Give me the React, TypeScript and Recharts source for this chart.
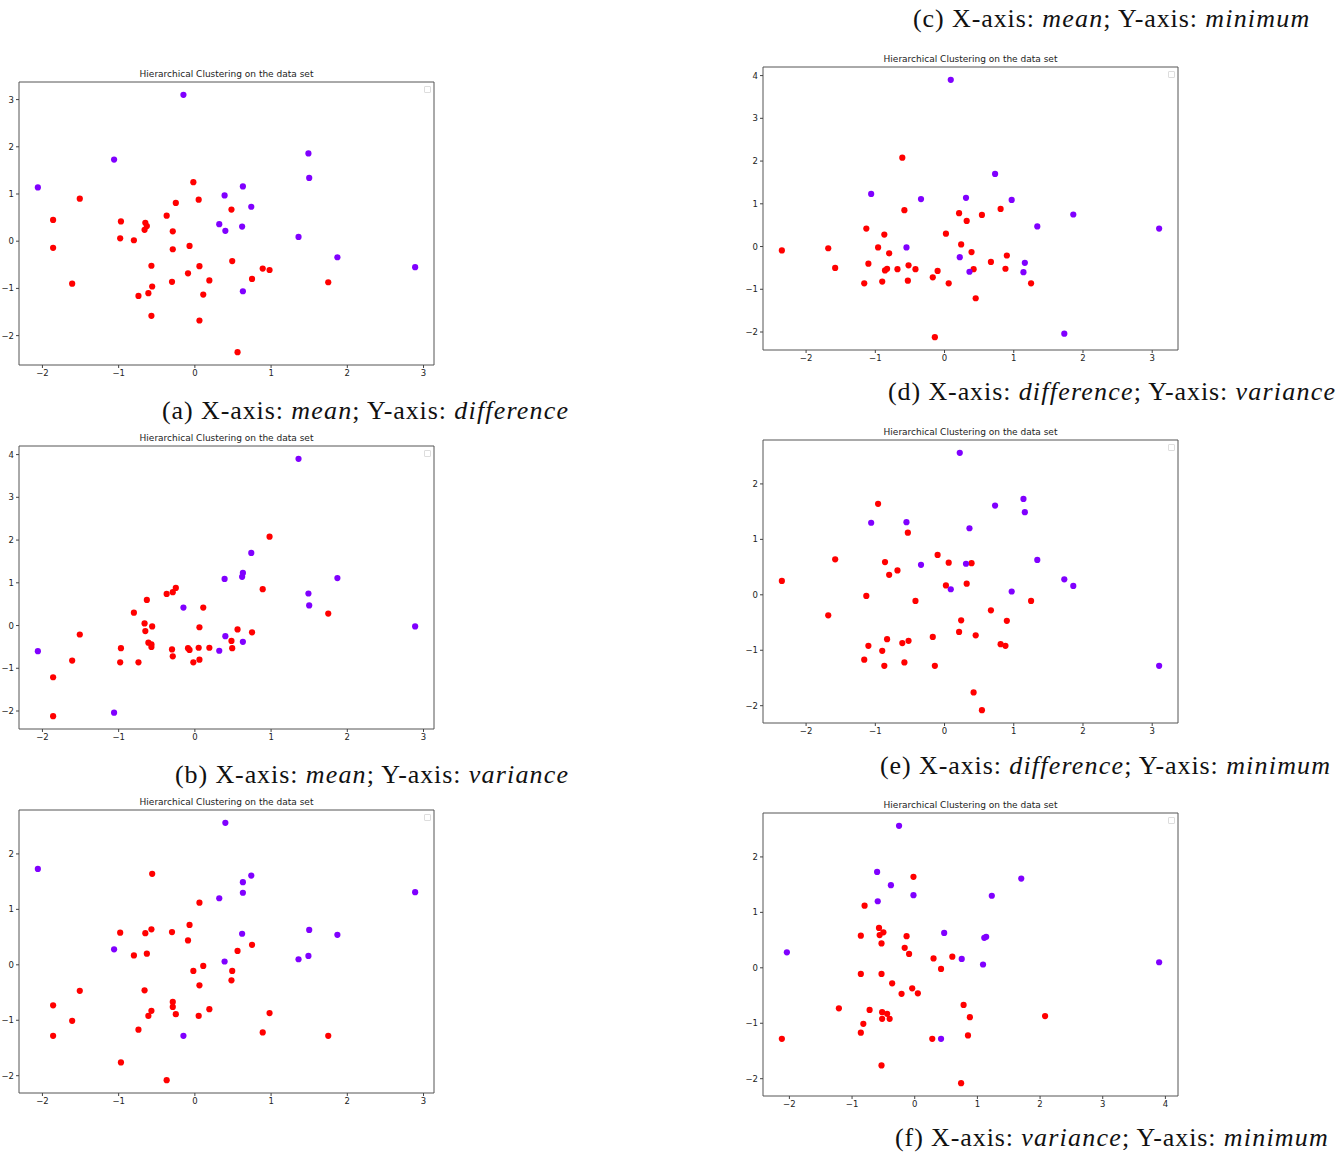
import React from "react";
import { ReferenceArea, Scatter, ScatterChart, XAxis, YAxis } from "recharts";

// cluster 0 (purple)
const meanP = [-0.15, -1.06, -2.06, 1.49, 1.5, 0.63, 0.39, 0.74, 0.32, 0.4, 0.62, 1.36, 1.87, 2.89, 0.63];
const diffP = [3.1, 1.73, 1.14, 1.86, 1.34, 1.16, 0.97, 0.73, 0.36, 0.22, 0.31, 0.09, -0.34, -0.55, -1.06];
const varP = [0.42, -2.04, -0.6, 0.75, 0.47, -0.38, 1.09, 1.7, -0.59, -0.25, 1.14, 3.9, 1.11, -0.02, 1.23];
const minP = [-1.28, 0.28, 1.73, 0.16, 0.63, 1.49, 0.06, 1.61, 1.2, 2.56, 0.56, 0.1, 0.54, 1.31, 1.3];

// cluster 1 (red)
const meanR = [
  -0.02, -1.51, 0.05, -0.25, 0.48, -1.86, -0.37, -0.97, -0.65, -0.63, -0.66, -0.29, -0.98, -0.8, -1.86, -0.29, -0.07, -0.57,
  0.06, 0.49, 0.89, 0.98, -0.09, 0.19, 0.75, -0.3, -1.61, 1.75, -0.56, -0.61, -0.74, 0.11, -0.57, 0.06, 0.56,
];
const diffR = [
  1.25, 0.9, 0.88, 0.81, 0.67, 0.45, 0.54, 0.42, 0.39, 0.32, 0.24, 0.21, 0.06, 0.02, -0.14, -0.17, -0.1, -0.52,
  -0.53, -0.42, -0.58, -0.61, -0.68, -0.83, -0.8, -0.86, -0.9, -0.87, -0.96, -1.1, -1.16, -1.13, -1.58, -1.68, -2.35,
];
const varR = [
  -0.86, -0.21, -0.52, 0.88, -0.36, -1.21, 0.74, -0.53, -0.13, 0.6, 0.05, 0.78, -0.86, 0.3, -2.12, -0.72, -0.57, -0.44,
  -0.8, -0.53, 0.85, 2.08, -0.53, -0.52, -0.16, -0.56, -0.82, 0.28, -0.02, -0.4, -0.86, 0.42, -0.5, -0.04, -0.09,
];
const minR = [
  -0.11, -0.47, -0.92, -0.89, -0.28, -0.73, -2.08, -1.76, 0.57, 0.2, -0.46, -0.67, 0.58, 0.17, -1.28, -0.76, 0.72, -0.83,
  1.12, -0.11, -1.22, -0.87, 0.44, -0.8, 0.36, 0.59, -1.01, -1.28, 1.64, -0.92, -1.17, -0.02, 0.64, -0.37, 0.25,
];

const diffTicks = [-2, -1, 0, 1, 2, 3];
const meanTicks = [-2, -1, 0, 1, 2, 3];
const varTicks = [-2, -1, 0, 1, 2, 3, 4];
const minTicks = [-2, -1, 0, 1, 2];

const PURPLE = "#8000ff";
const RED = "#ff0000";
const BOX_W = 415;
const BOX_H = 283;
const PAD_L = 40;
const PAD_T = 20;
const PAD_R = 12;
const PAD_B = 24;

const zip = (xs: number[], ys: number[]) => xs.map((x, i) => ({ x, y: ys[i] }));

// matplotlib-style autoscale: data limits plus 5% margin
const limits = (a: number[], b: number[]): [number, number] => {
  const all = a.concat(b);
  const lo = Math.min(...all);
  const hi = Math.max(...all);
  const m = (hi - lo) * 0.05;
  return [lo - m, hi + m];
};

const fmt = (v: number) => String(v).replace("-", "\u2212");

const Dot = (color: string) => (props: any) => (
  <circle cx={props.cx} cy={props.cy} r={3.1} fill={color} />
);

type PanelProps = {
  left: number;
  top: number;
  xP: number[];
  yP: number[];
  xR: number[];
  yR: number[];
  xTicks: number[];
  yTicks: number[];
};

function Panel({ left, top, xP, yP, xR, yR, xTicks, yTicks }: PanelProps) {
  const xd = limits(xP, xR);
  const yd = limits(yP, yR);
  const tick = { fontSize: 8.5, fill: "#222", fontFamily: "DejaVu Sans" };
  return (
    <div style={{ position: "absolute", left: left - PAD_L, top: top - PAD_T }}>
      <div
        style={{
          position: "absolute",
          left: PAD_L,
          width: BOX_W,
          top: PAD_T - 14,
          textAlign: "center",
          fontFamily: "DejaVu Sans",
          fontSize: 9,
          color: "#222",
          lineHeight: "12px",
        }}
      >
        Hierarchical Clustering on the data set
      </div>
      <ScatterChart
        width={BOX_W + PAD_L + PAD_R}
        height={BOX_H + PAD_T + PAD_B}
        margin={{ top: PAD_T, right: PAD_R, bottom: 0, left: 0 }}
      >
        <XAxis
          type="number"
          dataKey="x"
          domain={xd}
          ticks={xTicks}
          allowDataOverflow
          height={PAD_B}
          axisLine={false}
          tickLine={{ stroke: "#444" }}
          tickSize={3}
          tickMargin={2}
          tick={tick}
          tickFormatter={fmt}
        />
        <YAxis
          type="number"
          dataKey="y"
          domain={yd}
          ticks={yTicks}
          allowDataOverflow
          width={PAD_L}
          axisLine={false}
          tickLine={{ stroke: "#444" }}
          tickSize={3}
          tickMargin={2}
          tick={tick}
          tickFormatter={fmt}
        />
        <ReferenceArea x1={xd[0]} x2={xd[1]} y1={yd[0]} y2={yd[1]} fill="none" stroke="#555" strokeWidth={1} />
        <Scatter data={zip(xR, yR)} shape={Dot(RED)} isAnimationActive={false} />
        <Scatter data={zip(xP, yP)} shape={Dot(PURPLE)} isAnimationActive={false} />
      </ScatterChart>
      {/* empty legend frame */}
      <div
        style={{
          position: "absolute",
          left: PAD_L + BOX_W - 10,
          top: PAD_T + 4,
          width: 5,
          height: 5,
          border: "1px solid #ddd",
          borderRadius: 1,
        }}
      />
    </div>
  );
}

type CaptionProps = { left: number; top: number; tag: string; xName: string; yName: string };

function Caption({ left, top, tag, xName, yName }: CaptionProps) {
  const math = { letterSpacing: "1.2px" };
  return (
    <div
      style={{
        position: "absolute",
        left,
        top,
        fontFamily: "Liberation Serif",
        fontSize: 26,
        letterSpacing: "0.9px",
        lineHeight: "28px",
        whiteSpace: "nowrap",
        color: "#111",
      }}
    >
      ({tag}) X-axis: <i style={math}>{xName}</i>; Y-axis: <i style={math}>{yName}</i>
    </div>
  );
}

export default function App() {
  return (
    <div style={{ position: "absolute", left: 0, top: 0, width: 1336, height: 1158, background: "#fff" }}>
      <Caption left={913} top={5} tag="c" xName="mean" yName="minimum" />
      <Panel left={19} top={82} xP={meanP} yP={diffP} xR={meanR} yR={diffR} xTicks={meanTicks} yTicks={diffTicks} />
      <Caption left={162} top={397} tag="a" xName="mean" yName="difference" />
      <Panel left={19} top={446} xP={meanP} yP={varP} xR={meanR} yR={varR} xTicks={meanTicks} yTicks={varTicks} />
      <Caption left={175} top={761} tag="b" xName="mean" yName="variance" />
      <Panel left={19} top={810} xP={meanP} yP={minP} xR={meanR} yR={minR} xTicks={meanTicks} yTicks={minTicks} />

      <Panel left={763} top={67} xP={diffP} yP={varP} xR={diffR} yR={varR} xTicks={diffTicks} yTicks={varTicks} />
      <Caption left={888} top={378} tag="d" xName="difference" yName="variance" />
      <Panel left={763} top={440} xP={diffP} yP={minP} xR={diffR} yR={minR} xTicks={diffTicks} yTicks={minTicks} />
      <Caption left={880} top={752} tag="e" xName="difference" yName="minimum" />
      <Panel left={763} top={813} xP={varP} yP={minP} xR={varR} yR={minR} xTicks={varTicks} yTicks={minTicks} />
      <Caption left={895} top={1124} tag="f" xName="variance" yName="minimum" />
    </div>
  );
}
